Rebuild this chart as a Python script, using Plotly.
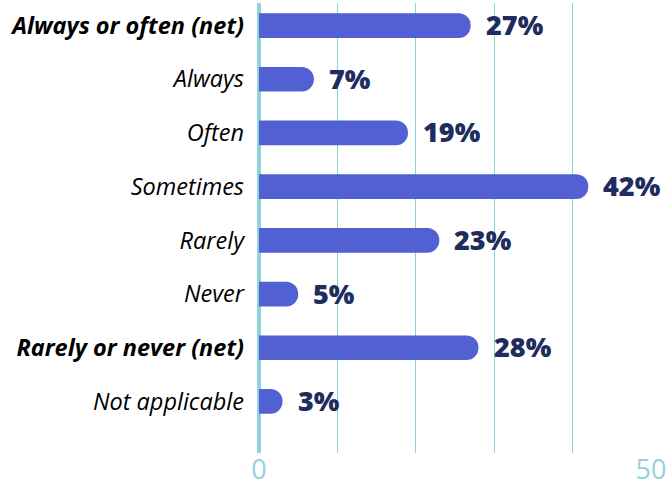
import plotly.graph_objects as go

categories = ["Always or often (net)", "Always", "Often", "Sometimes", "Rarely",
              "Never", "Rarely or never (net)", "Not applicable"]
values = [27, 7, 19, 42, 23, 5, 28, 3]
is_net = [True, False, False, False, False, False, True, False]
x_tickvals = [0, 10, 20, 30, 40, 50]
x_ticktext = ["0", "", "", "", "", "50"]

BAR = "#5161d3"
VAL = "#1f2d5e"
TEAL = "#8fd4dc"
GRID = "#88d4dd"

ticktext = [f"<b><i>{c}</i></b>" if n else f"<i>{c}</i>" for c, n in zip(categories, is_net)]

fig = go.Figure()
fig.add_trace(go.Bar(
    x=values, y=categories, orientation="h",
    marker=dict(color=BAR, cornerradius=12, line=dict(width=0)),
    width=0.46, hoverinfo="skip",
))

for c, v in zip(categories, values):
    fig.add_annotation(x=v, y=c, text=f"{v}%", showarrow=False, xanchor="left",
                       xshift=13, yshift=1,
                       font=dict(family="Open Sans", size=27, color=VAL, weight=800))

fig.update_layout(
    width=667, height=490,
    margin=dict(l=259, r=16, t=3, b=37, autoexpand=False),
    paper_bgcolor="white", plot_bgcolor="white",
    showlegend=False,
    xaxis=dict(range=[0, 50], tickvals=x_tickvals, ticktext=x_ticktext,
               showgrid=True, gridcolor=GRID, gridwidth=1.3,
               zeroline=True, zerolinecolor=TEAL, zerolinewidth=4,
               tickfont=dict(family="Open Sans", size=27, color=TEAL),
               showline=False, ticks="", automargin=False, ticklabelstandoff=-2),
    yaxis=dict(categoryorder="array", categoryarray=categories,
               range=[7.96, -0.42], tickvals=categories, ticktext=ticktext,
               tickfont=dict(family="Open Sans", size=23.5, color="#000000"),
               showgrid=False, zeroline=False, ticks="", ticklabelstandoff=14,
               automargin=False),
)

fig.write_html("out.html", config={"displayModeBar": False},
               post_script="document.body.style.margin='0';document.body.style.overflow='hidden';")
